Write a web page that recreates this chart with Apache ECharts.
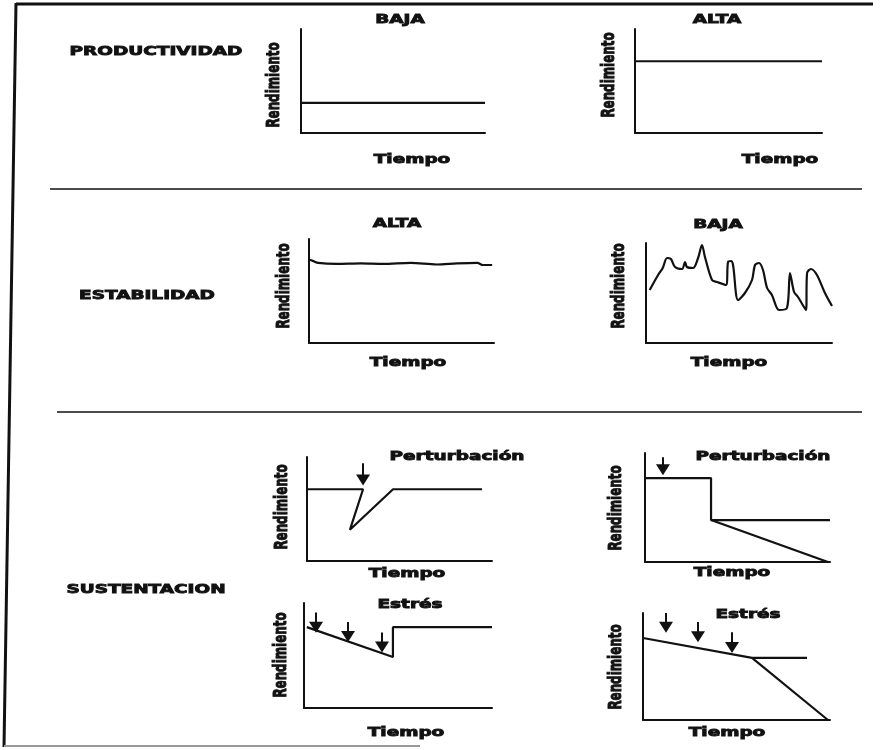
<!DOCTYPE html>
<html><head><meta charset="utf-8">
<script src="https://cdn.jsdelivr.net/npm/echarts@6/dist/echarts.min.js"></script>
<style>html,body{margin:0;padding:0;background:#fff}#c{width:883px;height:750px}</style>
</head><body><div id="c"></div>
<script>
// ---------- data ----------
const sectionLabels = ['PRODUCTIVIDAD', 'ESTABILIDAD', 'SUSTENTACION'];
const panelTitles = ['BAJA', 'ALTA', 'ALTA', 'BAJA', 'Perturbación', 'Perturbación', 'Estrés', 'Estrés'];
const xName = 'Tiempo';
const yName = 'Rendimiento';

const prodBaja = [[0, 29], [100, 29]];
const prodAlta = [[0, 69], [100, 69]];
const estabAlta = [[0, 80], [2, 79], [5, 77], [15, 76], [28, 76.5], [40, 76], [55, 77], [69, 75.5], [80, 76.5], [91, 77], [94, 75], [99, 75]];
const estabBaja = [[2, 53], [6.5, 68], [9, 75], [11.3, 85], [13.4, 84], [15.6, 76], [19.4, 74], [21, 81], [22, 76], [25.3, 75], [28, 85], [30.1, 98], [31.7, 86], [35.5, 63], [38.2, 61], [43, 58], [44.1, 81], [45.7, 82], [46.8, 78], [49.5, 43], [53.2, 50], [57, 63], [58.6, 78], [60.8, 80], [62.9, 73], [65.1, 55], [67.7, 48], [71.5, 33], [75.8, 35], [77.4, 70], [79.6, 51], [81.7, 46], [86, 33], [86.6, 70], [88.7, 74], [91.9, 68], [96.2, 50], [100, 37]];
const pertRecupera = [[0, 69], [30.3, 69], [23.2, 30], [46.5, 69], [94.6, 69]];
const pertCaidaNivel = [[0, 77], [35.7, 77], [35.7, 38.5], [100, 38.5]];
const pertCaidaDeclive = [[35.7, 38.5], [98.9, 0]];
const estresRecupera = [[1.5, 77], [47.3, 48.6], [47.3, 77], [100, 77]];
const estresNivel = [[0, 76.6], [58.3, 58], [87.7, 58]];
const estresDeclive = [[58.3, 58], [98.9, 0]];
// arrows: [x, yStart, yEnd]
const arrowsPert1 = [[30.3, 94, 78]];
const arrowsPert2 = [[9.7, 96, 84.6]];
const arrowsEstres1 = [[6.4, 91, 77], [23.4, 82, 68], [41.5, 72, 58]];
const arrowsEstres2 = [[12.3, 100, 86.7], [29.4, 91.6, 77.7], [47.6, 82, 67.7]];

const panelSeries = [[prodBaja], [prodAlta], [estabAlta], [estabBaja], [pertRecupera], [pertCaidaNivel, pertCaidaDeclive], [estresRecupera], [estresNivel, estresDeclive]];
const panelArrows = [[], [], [], [], arrowsPert1, arrowsPert2, arrowsEstres1, arrowsEstres2];
const panelSmooth = [false, false, 0.3, 0.3, false, false, false, false];

// ---------- layout ----------
const layout = [
  { grid: [301, 29, 184, 104], title: [400, 20], xn: [412, 160], yn: [275, 85] },
  { grid: [635, 29, 187, 104], title: [717, 20], xn: [780, 160], yn: [610, 75] },
  { grid: [309, 239, 185, 104], title: [397, 224], xn: [408, 363], yn: [285, 286] },
  { grid: [646, 243, 186, 100], title: [718, 225], xn: [729, 363], yn: [620, 286] },
  { grid: [307, 457, 185, 104], title: [457, 457], xn: [407, 574], yn: [283, 507] },
  { grid: [645, 453, 185, 109], title: [763, 457], xn: [732, 573], yn: [617, 508] },
  { grid: [304, 603, 188, 105], title: [410, 605], xn: [406, 733], yn: [282, 655] },
  { grid: [643, 613, 187, 107], title: [748, 615], xn: [727, 733], yn: [617, 667] }
];
const sectionPos = [[156, 52], [147, 296], [146, 590]];

const INK = '#111';
const FONT = 'bold 13px "DejaVu Sans"';
const SX = 1.42;

function txt(text, x, y, opts) {
  opts = opts || {};
  return {
    type: 'text', x: x, y: y, silent: true,
    rotation: opts.rot || 0,
    scaleX: opts.sx || SX, scaleY: 1,
    style: {
      text: text, font: opts.font || FONT, fill: INK,
      stroke: INK, lineWidth: opts.lw || 0.9,
      textAlign: 'center', textVerticalAlign: 'middle', align: 'center', verticalAlign: 'middle'
    }
  };
}

const grids = [], xAxes = [], yAxes = [], series = [], graphics = [];
const axisCommon = {
  type: 'value', min: 0, max: 100,
  axisLine: { show: true, onZero: false, lineStyle: { color: INK, width: 2 } },
  axisTick: { show: false }, axisLabel: { show: false }, splitLine: { show: false }
};

layout.forEach((L, i) => {
  grids.push({ left: L.grid[0], top: L.grid[1], width: L.grid[2], height: L.grid[3] });
  xAxes.push(Object.assign({ gridIndex: i }, axisCommon));
  yAxes.push(Object.assign({ gridIndex: i }, axisCommon));
  panelSeries[i].forEach((d, k) => {
    const s = {
      type: 'line', xAxisIndex: i, yAxisIndex: i, data: d,
      showSymbol: false, symbol: 'none', smooth: panelSmooth[i],
      lineStyle: { color: INK, width: 2.2 }, silent: true, animation: false
    };
    if (k === 0 && panelArrows[i].length) {
      s.markLine = {
        silent: true, animation: false,
        symbol: ['none', 'triangle'], symbolSize: [14, 11],
        label: { show: false },
        lineStyle: { color: INK, width: 2, type: 'solid' },
        itemStyle: { color: INK },
        emphasis: { disabled: true },
        data: panelArrows[i].map(a => [{ coord: [a[0], a[1]] }, { coord: [a[0], a[2]] }])
      };
    }
    series.push(s);
  });
  graphics.push(txt(panelTitles[i], L.title[0], L.title[1]));
  graphics.push(txt(xName, L.xn[0], L.xn[1]));
  graphics.push(txt(yName, L.yn[0], L.yn[1], { rot: Math.PI / 2, sx: 0.7, lw: 1, font: 'bold 17px "DejaVu Sans"' }));
});

sectionLabels.forEach((s, i) => graphics.push(txt(s, sectionPos[i][0], sectionPos[i][1])));

// frame and separators
function ln(x1, y1, x2, y2, w, c) {
  return { type: 'line', silent: true, shape: { x1: x1, y1: y1, x2: x2, y2: y2 }, style: { stroke: c || INK, lineWidth: w } };
}
graphics.push(ln(16, 4, 873, 4, 3));
graphics.push(ln(16, 3, 4, 747, 3));
graphics.push(ln(4, 746, 420, 746, 2, '#999'));
graphics.push(ln(50, 189, 862, 189, 1.5));
graphics.push(ln(57, 412, 862, 412, 1.5));

const chart = echarts.init(document.getElementById('c'), null, { renderer: 'canvas' });
chart.setOption({
  backgroundColor: '#fff',
  animation: false,
  grid: grids, xAxis: xAxes, yAxis: yAxes, series: series,
  graphic: { elements: graphics }
});
</script></body></html>
